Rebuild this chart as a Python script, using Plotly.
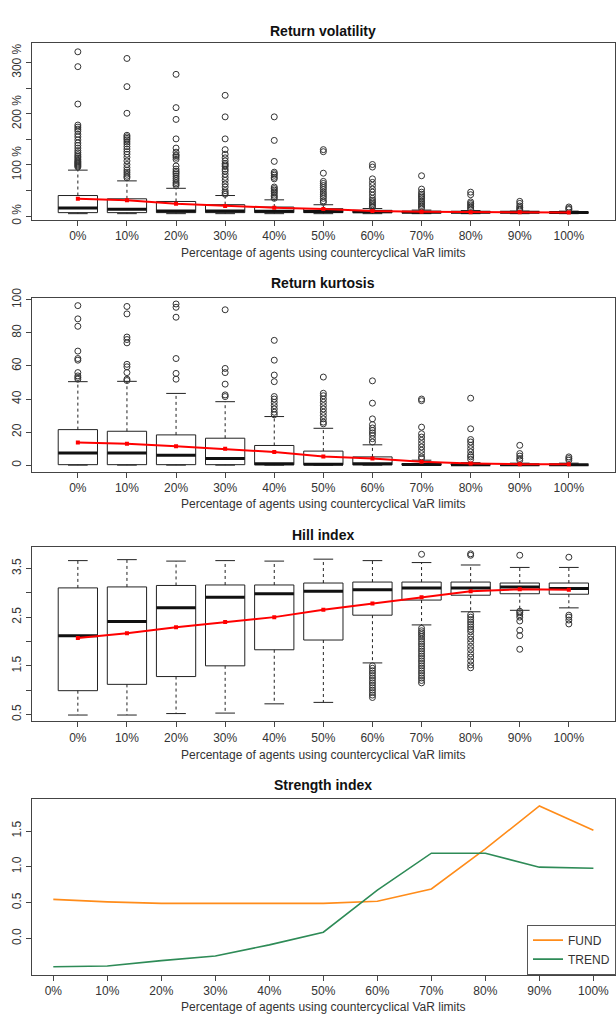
import plotly.graph_objects as go

# ---------------- data ----------------
categories = ["0%", "10%", "20%", "30%", "40%", "50%", "60%", "70%", "80%", "90%", "100%"]

# Return volatility (in %)
vol_lo = [5, 5, 5, 5, 5, 5, 5, 5, 5, 5, 5]
vol_q1 = [7, 7, 7, 7, 7, 7, 7, 7, 7, 7, 7]
vol_med = [16, 13.5, 10.2, 10, 9.8, 9, 8.5, 8, 7.8, 7.6, 7.5]
vol_q3 = [40.4, 34, 28.8, 22.5, 17.9, 14.7, 11.5, 9.6, 9, 8.6, 8.4]
vol_hi = [90, 69, 54.5, 40.4, 32, 22.4, 15, 12, 11, 10, 10]
vol_mean = [34, 31, 24.5, 20, 16.7, 14, 10, 8.5, 8, 7.6, 7.5]
vol_out = [
    [321, 292, 219, 178, 174, 170, 166, 160, 155, 149, 143, 138, 133, 128, 124, 120, 117, 114, 111, 108, 106, 104, 102, 100, 98, 96],
    [308, 253, 201, 158, 155, 152, 149, 145, 141, 136, 131, 126, 121, 115, 108, 101, 95, 90, 86, 82, 78, 75],
    [277, 212, 189, 151, 133, 125, 120, 118, 115, 111, 98, 92, 88, 85, 82, 78, 74, 70, 66, 63, 60],
    [236, 194, 151, 130, 121, 114, 108, 103, 100, 97, 92, 88, 82, 76, 70, 63, 57, 50, 46, 43],
    [194, 148, 107, 86, 83, 80, 76, 73, 57, 54, 51, 48, 45, 41, 38, 35],
    [130, 126, 84, 68, 64, 60, 56, 52, 47, 43, 39, 35, 30, 27],
    [101, 96, 73, 66, 60, 53, 47, 41, 35, 31, 28, 25, 22, 19, 17],
    [79, 53, 47, 43, 40, 37, 34, 30, 27, 24, 21, 18, 15],
    [47, 42, 28, 25, 22, 19, 16, 13],
    [29, 25, 20, 17, 14, 12],
    [18, 15, 13],
]

# Return kurtosis
kurt_lo = [0, 0, 0, 0, 0, 0, 0, 0, 0, 0, 0]
kurt_q1 = [0.3, 0.3, 0.3, 0.3, 0.2, 0.2, 0.2, 0.1, 0.1, 0.1, 0.1]
kurt_med = [7.3, 7.3, 6, 4, 0.8, 0.6, 0.8, 0.4, 0.3, 0.3, 0.3]
kurt_q3 = [21.5, 20.5, 18.3, 16.3, 11.9, 8.5, 5, 1, 0.6, 0.5, 0.5]
kurt_hi = [50.5, 50.7, 43.4, 38.4, 29.4, 22.3, 12.3, 3, 1.5, 1.2, 1.2]
kurt_mean = [13.7, 13, 11.5, 9.9, 7.9, 5.3, 4, 2, 1, 0.6, 0.5]
kurt_out = [
    [96.5, 88.5, 84, 69, 64.5, 63.5, 56, 54, 53, 52],
    [96, 91.5, 77.5, 76, 74, 61, 59.5, 56, 52, 51.2],
    [97.5, 95.5, 89.5, 64.5, 55.5, 52],
    [94, 58.5, 56, 49, 42.5, 41.5],
    [75.5, 63.5, 54.5, 50.5, 41.5, 40, 38, 36, 34, 32, 30.5],
    [53.3, 43.5, 42, 40, 38, 36, 34, 32, 30, 28, 26, 25],
    [51, 37.5, 28, 24.5, 22.5, 21, 19.5, 18, 16, 14],
    [40, 39, 23, 19, 17, 15, 13, 11, 9, 7, 5, 4],
    [40.5, 22, 15.5, 14, 12, 10, 8, 6, 5, 3.5],
    [12, 7, 5.5, 4, 3],
    [5, 4, 3],
]

# Hill index
hill_lo = [0.49, 0.49, 0.52, 0.53, 0.72, 0.75, 1.56, 2.34, 2.61, 2.64, 2.69]
hill_q1 = [0.99, 1.12, 1.28, 1.50, 1.83, 2.03, 2.54, 2.85, 2.95, 2.98, 2.97]
hill_med = [2.12, 2.41, 2.69, 2.91, 2.98, 3.03, 3.06, 3.10, 3.10, 3.12, 3.09]
hill_q3 = [3.10, 3.12, 3.15, 3.16, 3.16, 3.20, 3.22, 3.22, 3.22, 3.20, 3.20]
hill_hi = [3.66, 3.68, 3.65, 3.66, 3.65, 3.69, 3.66, 3.62, 3.57, 3.52, 3.52]
hill_mean = [2.07, 2.17, 2.29, 2.40, 2.50, 2.65, 2.78, 2.91, 3.03, 3.07, 3.06]
hill_out = [
    [], [], [], [], [], [],
    [1.5, 1.45, 1.4, 1.35, 1.3, 1.25, 1.2, 1.15, 1.1, 1.05, 1.0, 0.95, 0.9, 0.85],
    [3.79, 2.27, 2.22, 2.18, 2.14, 2.1, 2.05, 2.0, 1.95, 1.9, 1.85, 1.8, 1.75, 1.7, 1.65, 1.6, 1.55,
     1.5, 1.45, 1.4, 1.35, 1.3, 1.25, 1.2, 1.15],
    [3.8, 3.77, 2.55, 2.5, 2.45, 2.4, 2.35, 2.3, 2.25, 2.2, 2.12, 2.05, 1.98, 1.9, 1.83, 1.75, 1.68,
     1.6, 1.52, 1.46],
    [3.77, 2.62, 2.59, 2.55, 2.5, 2.42, 2.23, 2.12, 1.84],
    [3.73, 2.54, 2.5, 2.44, 2.36],
]

# Strength index
strength_x = [0, 10, 20, 30, 40, 50, 60, 70, 80, 90, 100]
fund = [0.545, 0.51, 0.49, 0.49, 0.49, 0.49, 0.52, 0.69, 1.25, 1.85, 1.51]
trend = [-0.395, -0.385, -0.31, -0.245, -0.09, 0.087, 0.675, 1.19, 1.19, 0.995, 0.98]

xlabel = "Percentage of agents using countercyclical VaR limits"
titles = ["Return volatility", "Return kurtosis", "Hill index", "Strength index"]

# ---------------- layout geometry ----------------
W, H = 616, 1019
FONT = "Liberation Sans, Arial, sans-serif"
AX = "#444444"
TXT = "#333333"

def py(p):
    return 1 - p / H

x_dom = [31.7 / W, 615 / W]
panels_px = [(34, 213), (292, 469), (545, 722), (801, 979)]
title_px = [21, 277, 533, 787]
xlab_px = [247, 501, 756, 1012]

fig = go.Figure()

def box_panel(k, lo, q1, med, q3, hi, mean, outs):
    xa = "x" if k == 1 else f"x{k}"
    ya = "y" if k == 1 else f"y{k}"
    bx, byy, mx, my, wx, wy, sx, sy, ox, oy = [], [], [], [], [], [], [], [], [], []
    for i in range(len(categories)):
        p = i + 1
        bx += [p - 0.4, p + 0.4, p + 0.4, p - 0.4, p - 0.4, None]
        byy += [q1[i], q1[i], q3[i], q3[i], q1[i], None]
        mx += [p - 0.4, p + 0.4, None]
        my += [med[i], med[i], None]
        wx += [p, p, None, p, p, None]
        wy += [q3[i], hi[i], None, q1[i], lo[i], None]
        sx += [p - 0.2, p + 0.2, None, p - 0.2, p + 0.2, None]
        sy += [hi[i], hi[i], None, lo[i], lo[i], None]
        for v in outs[i]:
            ox.append(p)
            oy.append(v)
    common = dict(xaxis=xa, yaxis=ya, showlegend=False, hoverinfo="skip")
    fig.add_trace(go.Scatter(x=wx, y=wy, mode="lines", line=dict(color="#222", width=1, dash="3px,3px"), **common))
    fig.add_trace(go.Scatter(x=sx, y=sy, mode="lines", line=dict(color="#222", width=1), **common))
    fig.add_trace(go.Scatter(x=bx, y=byy, mode="lines", line=dict(color="#222", width=1), **common))
    fig.add_trace(go.Scatter(x=mx, y=my, mode="lines", line=dict(color="#111", width=3), **common))
    fig.add_trace(go.Scatter(x=ox, y=oy, mode="markers",
                             marker=dict(symbol="circle-open", size=6, color="#333", line=dict(width=1)), **common))
    fig.add_trace(go.Scatter(x=list(range(1, len(categories) + 1)), y=mean, mode="lines+markers",
                             line=dict(color="#ff0000", width=2), marker=dict(color="#ff0000", size=4, symbol="square"),
                             **common))

box_panel(1, vol_lo, vol_q1, vol_med, vol_q3, vol_hi, vol_mean, vol_out)
box_panel(2, kurt_lo, kurt_q1, kurt_med, kurt_q3, kurt_hi, kurt_mean, kurt_out)
box_panel(3, hill_lo, hill_q1, hill_med, hill_q3, hill_hi, hill_mean, hill_out)

fig.add_trace(go.Scatter(x=strength_x, y=fund, mode="lines", name="FUND",
                         line=dict(color="#ff8c1a", width=1.6), xaxis="x4", yaxis="y4"))
fig.add_trace(go.Scatter(x=strength_x, y=trend, mode="lines", name="TREND",
                         line=dict(color="#2e8b57", width=1.6), xaxis="x4", yaxis="y4"))

axis_common = dict(showline=True, linecolor=AX, linewidth=1, mirror=True, showgrid=False, zeroline=False,
                   ticks="outside", ticklen=5, tickcolor=AX, tickfont=dict(family=FONT, size=12, color=TXT))

y_ranges = [[-7.1, 337.2], [-4.2, 101.3], [0.36, 3.94], [-0.505, 1.944]]
y_tickvals = [[0, 50, 100, 150, 200, 250, 300], [0, 20, 40, 60, 80, 100],
              [0.5, 1.0, 1.5, 2.0, 2.5, 3.0, 3.5], [0.0, 0.5, 1.0, 1.5]]
y_ticktext = [["0 %", "", "100 %", "", "200 %", "", "300 %"], ["0", "20", "40", "60", "80", "100"],
              ["0.5", "", "1.5", "", "2.5", "", "3.5"], ["0.0", "0.5", "1.0", "1.5"]]

layout = dict(width=W, height=H, margin=dict(l=0, r=0, t=0, b=0), paper_bgcolor="white", plot_bgcolor="white",
              font=dict(family=FONT, color=TXT))
for k in range(1, 5):
    top, bot = panels_px[k - 1]
    xk = "xaxis" if k == 1 else f"xaxis{k}"
    yk = "yaxis" if k == 1 else f"yaxis{k}"
    ya = "y" if k == 1 else f"y{k}"
    xa = "x" if k == 1 else f"x{k}"
    if k < 4:
        xr = [0.06, 11.94]
        xtv = list(range(1, len(categories) + 1))
    else:
        xr = [-4, 104]
        xtv = strength_x
    layout[xk] = dict(domain=x_dom, anchor=ya, range=xr, tickvals=xtv, ticktext=categories,
                      ticklabelstandoff=0, **axis_common)
    layout[yk] = dict(domain=[py(bot), py(top)], anchor=xa, range=y_ranges[k - 1],
                      tickvals=y_tickvals[k - 1], ticktext=y_ticktext[k - 1], tickangle=-90, **axis_common)

annotations = []
for k in range(4):
    annotations.append(dict(text="<b>" + titles[k] + "</b>", x=(31.7 + 615) / 2 / W, y=py(title_px[k]),
                            xref="paper", yref="paper", xanchor="center", yanchor="middle", showarrow=False,
                            font=dict(family=FONT, size=14, color="#111")))
    annotations.append(dict(text=xlabel, x=(31.7 + 615) / 2 / W, y=py(xlab_px[k]),
                            xref="paper", yref="paper", xanchor="center", yanchor="middle", showarrow=False,
                            font=dict(family=FONT, size=12, color=TXT)))
layout["annotations"] = annotations
layout["showlegend"] = True
layout["legend"] = dict(x=1, xanchor="right", y=py(979), yanchor="bottom", bgcolor="white",
                        bordercolor="#555", borderwidth=1, font=dict(family=FONT, size=12, color=TXT),
                        tracegroupgap=0, itemwidth=30)

fig.update_layout(**layout)
fig.write_html("out.html", config={"displayModeBar": False},
               post_script="document.body.style.margin='0px';")
